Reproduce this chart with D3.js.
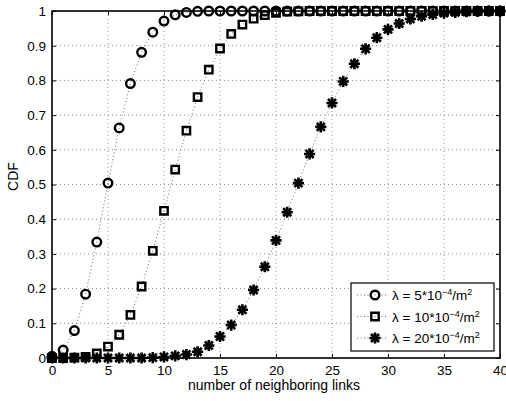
<!DOCTYPE html>
<html>
<head>
<meta charset="utf-8">
<script src="https://cdn.jsdelivr.net/npm/d3@7"></script>
<style>
  body { margin: 0; background: #fff; }
  text { font-family: "Liberation Sans", Arial, sans-serif; }
</style>
</head>
<body>
<div id="chart-area"></div>
<script>
// data
var xValues = d3.range(0, 41);
var cdf5 = [0.005, 0.023, 0.079, 0.184, 0.334, 0.504, 0.663, 0.791, 0.881, 0.939,
  0.971, 0.989, 0.996, 0.999, 1, 1, 1, 1, 1, 1, 1, 1, 1, 1, 1, 1, 1, 1, 1, 1,
  1, 1, 1, 1, 1, 1, 1, 1, 1, 1, 1];
var cdf10 = [0, 0, 0.001, 0.003, 0.013, 0.033, 0.067, 0.124, 0.206, 0.309,
  0.424, 0.543, 0.655, 0.752, 0.831, 0.892, 0.934, 0.961, 0.978, 0.988,
  0.995, 0.998, 0.999, 1, 1, 1, 1, 1, 1, 1, 1, 1, 1, 1, 1, 1, 1, 1, 1, 1, 1];
var cdf20 = [0, 0, 0, 0, 0, 0, 0, 0, 0, 0.001, 0.003, 0.006, 0.01, 0.018,
  0.036, 0.062, 0.095, 0.139, 0.196, 0.263, 0.339, 0.42, 0.504, 0.588, 0.666,
  0.735, 0.797, 0.848, 0.891, 0.923, 0.947, 0.964, 0.977, 0.985, 0.99, 0.994,
  0.996, 0.998, 0.999, 1, 1];
var seriesNames = ["5", "10", "20"];
var seriesMarkers = ["circle", "square", "star"];
var xTicks = d3.range(0, 41, 5);
var yTicks = d3.range(0, 11).map(function(d){ return d / 10; });

var margin = { left: 52, right: 6, top: 11, bottom: 43 };
var width = 506 - margin.left - margin.right,
    height = 401 - margin.top - margin.bottom;

var svg = d3.select("#chart-area").append("svg")
    .attr("width", 506).attr("height", 401);
var g = svg.append("g")
    .attr("transform", "translate(" + margin.left + "," + margin.top + ")");

var x = d3.scaleLinear().domain([0, 40]).range([0, width]);
var y = d3.scaleLinear().domain([0, 1]).range([height, 0]);

// grid
g.append("g").selectAll("line").data(xTicks.slice(1, -1)).enter().append("line")
    .attr("x1", function(d){ return x(d); }).attr("x2", function(d){ return x(d); })
    .attr("y1", 0).attr("y2", height)
    .attr("stroke", "#888").attr("stroke-width", 1).attr("stroke-dasharray", "1,3");
g.append("g").selectAll("line").data(yTicks.slice(1, -1)).enter().append("line")
    .attr("y1", function(d){ return y(d); }).attr("y2", function(d){ return y(d); })
    .attr("x1", 0).attr("x2", width)
    .attr("stroke", "#888").attr("stroke-width", 1).attr("stroke-dasharray", "1,3");

// axes (ticks inside)
var xAxis = d3.axisBottom(x).tickValues(xTicks).tickSizeInner(-4).tickSizeOuter(0)
    .tickPadding(7).tickFormat(d3.format("d"));
var gx = g.append("g").attr("transform", "translate(0," + height + ")").call(xAxis);
var yAxis = d3.axisLeft(y).tickValues(yTicks).tickSizeInner(-4).tickSizeOuter(0)
    .tickPadding(6).tickFormat(function(d){ return d === 0 || d === 1 ? d : d.toFixed(1); });
var gy = g.append("g").call(yAxis);
g.append("g").call(d3.axisTop(x).tickValues(xTicks).tickSizeInner(-4).tickSizeOuter(0).tickFormat(""));
g.append("g").attr("transform", "translate(" + width + ",0)")
    .call(d3.axisRight(y).tickValues(yTicks).tickSizeInner(-4).tickSizeOuter(0).tickFormat(""));
g.selectAll(".domain").remove();
g.selectAll(".tick line").attr("stroke", "#000");
g.selectAll(".tick text").attr("font-size", "13.5px").attr("fill", "#000")
    .style("font-family", "'Liberation Sans', Arial, sans-serif");
gx.selectAll(".tick text").attr("dy", "0.71em");

g.append("rect").attr("width", width).attr("height", height)
    .attr("fill", "none").attr("stroke", "#000").attr("stroke-width", 1.6);

// labels
g.append("text").attr("x", width / 2 - 2).attr("y", height + 32)
    .attr("text-anchor", "middle").attr("font-size", "14px").text("number of neighboring links");
g.append("text").attr("transform", "rotate(-90)").attr("x", -height / 2 + 8).attr("y", -34)
    .attr("text-anchor", "middle").attr("font-size", "14px").text("CDF");

// markers
function markerPath(type) {
  if (type === "circle") return d3.symbol(d3.symbolCircle, 58)();
  if (type === "square") return "M-3.7,-3.7H3.7V3.7H-3.7Z";
  var r = 5.6, s = r * 0.72;
  return "M" + (-r) + ",0H" + r + "M0," + (-r) + "V" + r +
    "M" + (-s) + "," + (-s) + "L" + s + "," + s + "M" + (-s) + "," + s + "L" + s + "," + (-s);
}
function drawMarker(sel, type) {
  sel.attr("d", markerPath(type)).attr("fill", "none").attr("stroke", "#000")
    .attr("stroke-width", type === "star" ? 2.6 : 2.4);
}

var allSeries = [cdf5, cdf10, cdf20];
var line = d3.line().x(function(d, i){ return x(xValues[i]); }).y(function(d){ return y(d); });

allSeries.forEach(function(vals, k){
  g.append("path").datum(vals).attr("d", line)
    .attr("fill", "none").attr("stroke", "#555").attr("stroke-width", 0.9)
    .attr("stroke-dasharray", "1,2.5");
});
allSeries.forEach(function(vals, k){
  g.append("g").selectAll("path").data(vals).enter().append("path")
    .attr("transform", function(d, i){ return "translate(" + x(xValues[i]) + "," + y(d) + ")"; })
    .call(drawMarker, seriesMarkers[k]);
});

// legend
var lg = svg.append("g").attr("transform", "translate(351,283)");
lg.append("rect").attr("width", 143).attr("height", 68)
    .attr("fill", "#fff").attr("stroke", "#000").attr("stroke-width", 1.2);
seriesNames.forEach(function(name, k){
  var row = lg.append("g").attr("transform", "translate(0," + (12 + k * 21.5) + ")");
  row.append("line").attr("x1", 6).attr("x2", 36).attr("y1", 0).attr("y2", 0)
    .attr("stroke", "#555").attr("stroke-width", 0.9).attr("stroke-dasharray", "1,2.5");
  row.append("path").attr("transform", "translate(24,0)").call(drawMarker, seriesMarkers[k]);
  var t = row.append("text").attr("x", 41).attr("y", 5).attr("font-size", "13.5px");
  t.append("tspan").text("\u03bb = " + name + "*10");
  t.append("tspan").attr("dy", -5).attr("font-size", "9px").text("\u22124");
  t.append("tspan").attr("dy", 5).text("/m");
  t.append("tspan").attr("dy", -5).attr("font-size", "9px").text("2");
});
</script>
</body>
</html>
